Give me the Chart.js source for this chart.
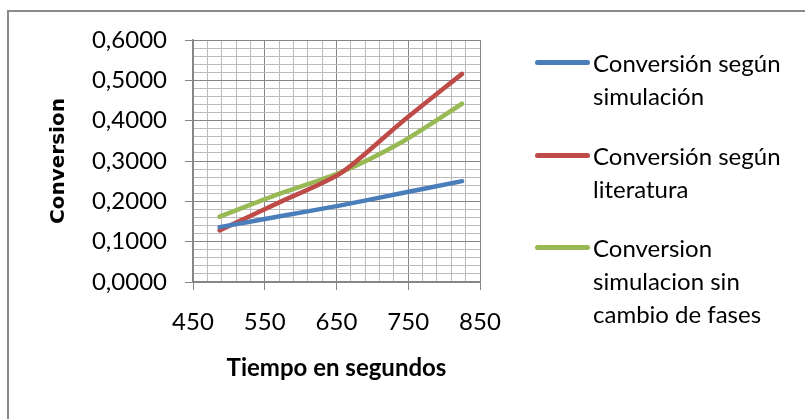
<!DOCTYPE html>
<html>
<head>
<meta charset="utf-8">
<script src="https://cdn.jsdelivr.net/npm/chart.js@4"></script>
<style>
  html, body { margin: 0; padding: 0; background: #fff; }
  #wrap { position: relative; width: 805px; height: 419px; overflow: hidden; font-family: Lato, "Noto Sans", sans-serif; }
  #frame { position: absolute; left: 7px; top: 10px; width: 820px; height: 430px; border-left: 2px solid #8a8a8a; border-top: 2px solid #8a8a8a; }
  #chart { position: absolute; left: 0; top: 0; }
  .item { position: absolute; left: 535px; width: 270px; }
  .swatch { position: absolute; left: 0; top: 14px; width: 55px; height: 5px; border-radius: 3px; }
  .label { position: absolute; left: 58px; width: 208px; font-size: 24px; line-height: 33px; color: #000; }
</style>
</head>
<body>
<div id="wrap">
  <div id="frame"></div>
  <canvas id="chart" width="805" height="419"></canvas>
  <div id="legend"></div>
</div>
<script>
// Tiempo (s) de cada punto medido
const tiempos = [487, 571, 656, 740, 825];

const seriesNames = [
    "Conversión según simulación",
    "Conversión según literatura",
    "Conversion simulacion sin cambio de fases"
];
const conversionSimulacion = [0.136, 0.163, 0.190, 0.220, 0.250];
const conversionLiteratura = [0.128, 0.198, 0.270, 0.395, 0.516];
const conversionSinCambio = [0.162, 0.219, 0.272, 0.346, 0.442];

const seriesColors = ["#4a7ebb", "#be4b48", "#98b954"];

const xTicks = [450, 550, 650, 750, 850];
const yTicks = [0, 0.1, 0.2, 0.3, 0.4, 0.5, 0.6];

const MAJOR = "#868686";
const MINOR = "#bababa";

function toPoints(values) {
    return tiempos.map((t, i) => ({ x: t, y: values[i] }));
}

function isMajorX(v) {
    return xTicks.indexOf(Math.round(v)) !== -1;
}

function isMajorY(v) {
    return yTicks.some(t => Math.abs(t - v) < 1e-6);
}

const seriesValues = [conversionSimulacion, conversionLiteratura, conversionSinCambio];

const ctx = document.getElementById("chart");

const chart = new Chart(ctx, {
    type: "line",
    data: {
        datasets: seriesValues.map((vals, i) => ({
            label: seriesNames[i],
            data: toPoints(vals),
            borderColor: seriesColors[i],
            backgroundColor: seriesColors[i],
            borderWidth: 4.5,
            borderCapStyle: "round",
            pointRadius: 0,
            tension: 0.25,
            fill: false
        }))
    },
    options: {
        responsive: false,
        animation: false,
        layout: {
            padding: { left: 0, top: 40, right: 325, bottom: 0 }
        },
        plugins: {
            legend: { display: false },
            tooltip: { enabled: false }
        },
        scales: {
            x: {
                type: "linear",
                min: 450,
                max: 850,
                afterFit: function (scale) { scale.height = 137; },
                ticks: {
                    stepSize: 20,
                    autoSkip: false,
                    maxRotation: 0,
                    padding: 18,
                    color: "#000",
                    font: { family: "Lato", size: 24 },
                    callback: function (v) { return isMajorX(v) ? String(Math.round(v)) : ""; }
                },
                grid: {
                    color: ctx => isMajorX(ctx.tick.value) ? MAJOR : MINOR,
                    tickColor: ctx => isMajorX(ctx.tick.value) ? MAJOR : "rgba(0,0,0,0)",
                    tickLength: 8,
                    lineWidth: 1
                },
                border: { color: MAJOR, width: 1.5 },
                title: {
                    display: true,
                    text: "Tiempo en segundos",
                    color: "#000",
                    font: { family: "Lato", size: 24, weight: "bold" },
                    padding: { top: 0, bottom: 36 }
                }
            },
            y: {
                min: 0,
                max: 0.6,
                afterFit: function (scale) { scale.width = 193; },
                ticks: {
                    stepSize: 0.02,
                    autoSkip: false,
                    padding: 18,
                    color: "#000",
                    font: { family: "Lato", size: 24 },
                    callback: function (v) { return isMajorY(v) ? v.toFixed(4).replace(".", ",") : ""; }
                },
                grid: {
                    color: ctx => isMajorY(ctx.tick.value) ? MAJOR : MINOR,
                    tickColor: ctx => isMajorY(ctx.tick.value) ? MAJOR : "rgba(0,0,0,0)",
                    tickLength: 8,
                    lineWidth: 1
                },
                border: { color: MAJOR, width: 1.5 },
                title: {
                    display: true,
                    text: "Conversion",
                    color: "#000",
                    font: { family: "Verdana, DejaVu Sans", size: 20, weight: "bold" },
                    padding: { top: 47, bottom: 0 }
                }
            }
        }
    }
});

// leyenda a la derecha, con texto en varias lineas
const legendTops = [46, 139, 231];
const legend = document.getElementById("legend");
seriesNames.forEach((name, i) => {
    const item = document.createElement("div");
    item.className = "item";
    item.style.top = legendTops[i] + "px";
    const sw = document.createElement("div");
    sw.className = "swatch";
    sw.style.background = seriesColors[i];
    const lab = document.createElement("div");
    lab.className = "label";
    lab.textContent = name;
    item.appendChild(sw);
    item.appendChild(lab);
    legend.appendChild(item);
});
</script>
</body>
</html>
